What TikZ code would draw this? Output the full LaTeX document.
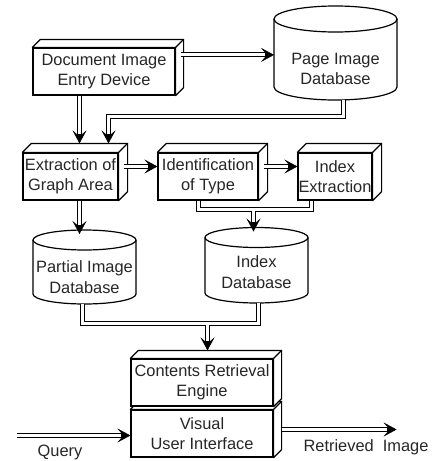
\documentclass[tikz,border=0pt]{standalone}
\usepackage{fontspec}
\setmainfont{Liberation Sans}
\usetikzlibrary{arrows.meta,calc}
\tikzset{
  txt/.style={font=\fontsize{16.4}{20.5}\selectfont, align=center, inner sep=0pt, text=black!85},
  box/.style={txt, draw, line width=1.2pt, fill=white, minimum height=47pt},
  dbln/.style={draw, line width=1pt, double distance=3pt, line join=miter},
  dbout/.style={draw, line width=5pt, line join=miter, -{Stealth[length=13pt,width=14pt,inset=6pt,line width=0.4pt]}},
  dbin/.style={draw=white, line width=3pt, line join=miter, shorten >=9.5pt},
  ucore/.style={draw=white, line width=3pt, line join=miter},
  cyl/.style={draw, line width=1.2pt, fill=white}
}
\newcommand\dbarrow[1]{\draw[dbout] #1; \draw[dbin] #1;}
\newcommand\cubefaces[2]{%
  \draw[line width=1.2pt, line join=round, fill=white] (#1.north west) -- ++(#2,-#2)
    -- ($(#1.north east)+(#2,-#2)$) -- ($(#1.south east)+(#2,-#2)$) -- (#1.south east)
    -- (#1.north east) -- cycle;
  \draw[line width=1.2pt] (#1.north east) -- ++(#2,-#2);
}
% name, cx, top-ellipse y, bottom-ellipse y, rx, ry, text, text y
\newcommand\dbcyl[8]{%
  \draw[cyl] (#2-#5,#3) -- (#2-#5,#4) arc[start angle=180,end angle=0,x radius=#5,y radius=#6] -- (#2+#5,#3);
  \draw[cyl] (#2,#3) ellipse[x radius=#5, y radius=#6];
  \coordinate (#1-top) at (#2,#3-#6);
  \coordinate (#1-bot) at (#2,#4+#6);
  \coordinate (#1-w) at (#2-#5,#8);
  \node[txt] (#1) at (#2,#8) {#7};
}
\begin{document}
\begin{tikzpicture}[x=1pt,y=-1pt]
\useasboundingbox (0,0) rectangle (434,461);

% boxes
\node[box, minimum width=142pt] (doc) at (104,71.5) {Document Image\\Entry Device};
\cubefaces{doc}{8}
\node[box, minimum width=95pt] (ext) at (70.5,176.5) {Extraction of\\Graph Area};
\cubefaces{ext}{9}
\node[box, minimum width=100pt] (ident) at (208,176.5) {Identification\\of Type};
\cubefaces{ident}{9}
\node[box, minimum width=74pt] (idx) at (335,176.5) {Index\\Extraction};
\cubefaces{idx}{9}
\node[box, minimum width=142pt] (vui) at (202,433.5) {Visual\\User Interface};
\cubefaces{vui}{8}
\node[box, minimum width=142pt] (cre) at (202,382.5) {Contents Retrieval\\Engine};
\cubefaces{cre}{8}

% databases
\dbcyl{pdb}{335.5}{19}{87}{61.5}{13}{Page Image\\Database}{69}
\dbcyl{pim}{84.5}{240}{294}{51.5}{10}{Partial Image\\Database}{277}
\dbcyl{idb}{256.5}{237.5}{293}{51.5}{10}{Index\\Database}{272}

% connectors
\coordinate (a1) at ($(doc.north east)+(5,7.5)$);
\dbarrow{(a1) -- (a1 -| pdb-w)}

\coordinate (b2) at ($(ext.north)+(9,-9)$);
\dbarrow{(b2 |- doc.south) -- (b2)}

\coordinate (c0) at ($(pdb-bot)+(8,0)$);
\coordinate (c3) at ($(ext.north)+(38,-9)$);
\dbarrow{(c0) -- ++(0,16.5) -| (c3)}

\coordinate (d1) at ($(ext.east)+(5,-10)$);
\dbarrow{(d1) -- (d1 -| ident.west)}
\coordinate (e1) at ($(ident.east)+(5,-10)$);
\dbarrow{(e1) -- (e1 -| idx.west)}

\coordinate (u1) at ($(ident.south)+(-9.5,0)$);
\coordinate (u2) at ($(idx.south)+(-23.5,0)$);
\coordinate (f1) at ($(ident.south)+(45.5,8.5)$);
\coordinate (f2) at ($(idb-top)+(0,4)$);
\draw[dbln] (u1) -- ++(0,8.5) -| (u2);
\dbarrow{(f1) -- (f1 |- f2)}
\draw[ucore] (u1) -- ++(0,8.5) -| (u2);

\coordinate (p1) at ($(pim-top)+(-5,4)$);
\dbarrow{(p1 |- ext.south) -- (p1)}

\coordinate (v1) at ($(pim-bot)+(-2,0)$);
\coordinate (gU) at ($(pim-bot)+(-2,19.5)$);
\coordinate (v2) at ($(idb-bot)+(2,0)$);
\coordinate (g1) at ($(cre.north)+(5.5,-8)$);
\draw[dbln] (v1) -- (gU) -| (v2);
\dbarrow{(g1 |- gU) -- (g1)}
\draw[ucore] (v1) -- (gU) -| (v2);

\coordinate (q0) at ($(vui.west)+(-113,2)$);
\dbarrow{(q0) -- (q0 -| vui.west)}
\node[txt] (ql) at (60,452) {Query};

\coordinate (r0) at ($(vui.east)+(8,-4)$);
\coordinate (r1) at ($(vui.east)+(123,-4)$);
\dbarrow{(r0) -- (r1)}
\node[txt] (rl) at (366,447) {Retrieved\hspace{0.55em}Image};
\end{tikzpicture}
\end{document}
